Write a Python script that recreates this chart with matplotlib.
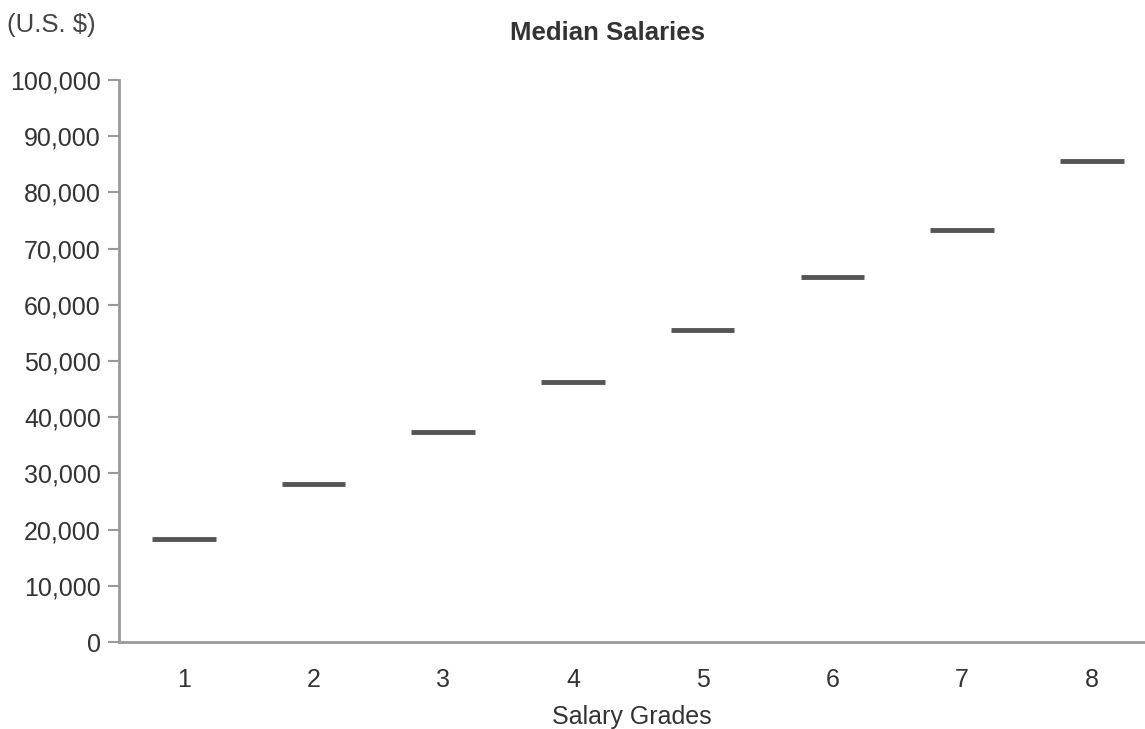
import numpy as np
import matplotlib.pyplot as plt

plt.rcParams['font.family'] = ['Liberation Sans', 'DejaVu Sans']

grades = [1, 2, 3, 4, 5, 6, 7, 8]
grade_labels = ['1', '2', '3', '4', '5', '6', '7', '8']
medians = [18300, 28100, 37300, 46200, 55500, 64900, 73300, 85600]

fig = plt.figure(figsize=(11.45, 7.29), dpi=100)
W, H = 1145, 729
ax = fig.add_axes([119 / W, 1 - 642 / H, (1145 - 119) / W, (642 - 80) / H])

half = 0.245
ax.hlines(medians, np.array(grades) - half, np.array(grades) + half,
          colors='#555555', linewidth=3.5)

ax.set_xlim(0.5, 8.41)
ax.set_ylim(0, 100000)
ax.set_yticks(np.arange(0, 100001, 10000))
ax.set_yticklabels([f'{v:,}' for v in range(0, 100001, 10000)])
ax.set_xticks(grades)
ax.set_xticklabels(grade_labels)

for s in ['top', 'right']:
    ax.spines[s].set_visible(False)
for s in ['left', 'bottom']:
    ax.spines[s].set_color('#9a9a9a')
    ax.spines[s].set_linewidth(2)
ax.tick_params(axis='y', length=8, width=1.5, color='#9a9a9a',
               labelsize=18, labelcolor='#333333', pad=5)
ax.tick_params(axis='x', length=0, labelsize=18, labelcolor='#333333', pad=19)

ax.set_xlabel('Salary Grades', fontsize=18, color='#333333', labelpad=9)
fig.text(608 / W, 1 - 33 / H, 'Median Salaries', ha='center', va='center',
         fontsize=18.5, fontweight='bold', color='#333333')
fig.text(7 / W, 1 - 25 / H, '(U.S. $)', ha='left', va='center',
         fontsize=18.5, color='#444444')

fig.savefig('out.png', dpi=100)
